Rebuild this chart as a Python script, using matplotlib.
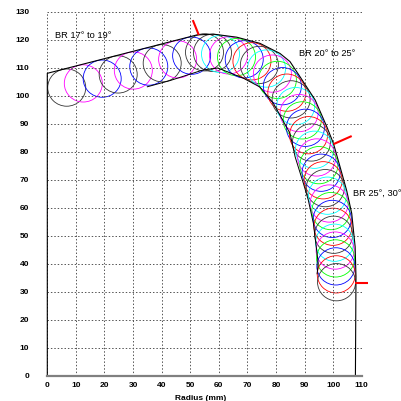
import matplotlib
matplotlib.use("Agg")
import matplotlib.pyplot as plt
from matplotlib.patches import Circle

# ---- data ----
radius = 6.65

seg1_x = [6.8, 12.6, 19.2, 24.8, 30.1, 35.5, 40.2, 45.6, 50.5, 55.0]
seg1_y = [103.0, 104.5, 106.2, 107.7, 109.1, 110.5, 111.7, 113.1, 114.4, 115.6]
seg1_colors = ['#333333', 'magenta', 'blue'] * 3 + ['#333333']

arc_x = [57.8, 60.6, 63.4, 66.2, 68.9, 71.6, 74.2, 76.7, 78.75, 80.5,
         82.25, 83.8, 85.3, 86.9, 88.1, 89.2, 90.3, 91.4, 92.4, 93.45,
         94.25, 95.0, 95.8, 96.5, 97.25, 98.0, 98.6, 99.2, 99.7, 99.95,
         100.2, 100.5, 100.7, 100.85, 100.95, 101.1, 101.2]
arc_y = [115.4, 115.0, 114.5, 113.9, 113.1, 112.4, 111.1, 109.8, 108.0, 105.75,
         103.5, 101.2, 98.8, 96.4, 93.9, 91.3, 88.65, 86.0, 83.4, 80.8,
         78.05, 75.3, 72.6, 69.9, 67.1, 64.4, 61.6, 58.9, 56.1, 53.3,
         50.45, 47.6, 44.8, 42.0, 39.15, 36.3, 33.5]
arc_cycle = ['#333333', 'cyan', 'magenta', 'lime', 'blue', 'red']
arc_colors = [arc_cycle[i % 6] for i in range(len(arc_x))]

outer_x = [0.0, 0.0, 52.3, 58.1, 66.3, 74.4, 81.4, 84.9, 88.4, 93.7, 97.8,
           100.1, 102.4, 104.8, 106.5, 107.7, 108.0, 107.8]
outer_y = [0.0, 108.1, 121.8, 122.1, 121.0, 118.8, 115.2, 112.3, 106.9, 98.6, 89.0,
           83.1, 74.8, 66.0, 58.1, 46.2, 35.5, 0.0]

inner_x = [35.0, 42.9, 54.5, 59.7, 68.5, 74.4, 79.1, 84.9, 86.7, 89.6, 91.3, 93.1, 94.8, 94.4]
inner_y = [103.3, 105.5, 109.3, 110.0, 106.4, 103.2, 97.4, 86.7, 78.3, 68.8, 62.9, 54.5, 40.2, 36.5]

arrows = [((50.9, 127.1), (53.0, 121.8)),
          ((106.5, 85.7), (100.1, 82.8)),
          ((112.3, 33.2), (107.8, 33.2))]

labels = [("BR 17° to 19°", 2.7, 121.5),
          ("BR 20° to 25°", 88.2, 115.2),
          ("BR 25°, 30°", 107.1, 65.3)]

xticks = list(range(0, 111, 10))
yticks = list(range(0, 131, 10))

# ---- figure ----
fig = plt.figure(figsize=(4.02, 4.01), dpi=100)
ax = fig.add_axes([47.3 / 402, 25 / 401, 314.4 / 402, 364 / 401])
ax.set_xlim(0, 110)
ax.set_ylim(0, 130)

for s in ['top', 'right', 'left']:
    ax.spines[s].set_visible(False)
ax.spines['bottom'].set_color('#808080')
ax.spines['bottom'].set_linewidth(1.6)

ax.set_xticks(xticks)
ax.set_yticks(yticks)
ax.grid(True, color='#555555', linestyle=(0, (1.5, 2.0)), linewidth=0.7)
ax.tick_params(axis='both', length=0)
ax.tick_params(axis='y', pad=13)
ax.tick_params(axis='x', pad=4)
for lab in ax.get_xticklabels() + ax.get_yticklabels():
    lab.set_fontfamily('Liberation Sans')
    lab.set_fontweight('bold')
    lab.set_fontsize(6)

for x, y, c in zip(seg1_x, seg1_y, seg1_colors):
    ax.add_patch(Circle((x, y), radius, fill=False, edgecolor=c, linewidth=0.6))
for x, y, c in zip(arc_x, arc_y, arc_colors):
    ax.add_patch(Circle((x, y), radius, fill=False, edgecolor=c, linewidth=0.6))

ax.plot(outer_x, outer_y, color='black', linewidth=0.8, clip_on=False)
ax.plot(inner_x, inner_y, color='black', linewidth=0.7)

for (x0, y0), (x1, y1) in arrows:
    ax.plot([x0, x1], [y0, y1], color='red', linewidth=1.5, clip_on=False,
            solid_capstyle='butt')

for t, x, y in labels:
    ax.text(x, y, t, fontsize=6.7, family='Liberation Sans', va='center', ha='left')

fig.text(201 / 402, 1 - 398 / 401, "Radius (mm)", fontsize=6, family='Liberation Sans',
         fontweight='bold', ha='center', va='center')

fig.savefig("out.png", dpi=100)
